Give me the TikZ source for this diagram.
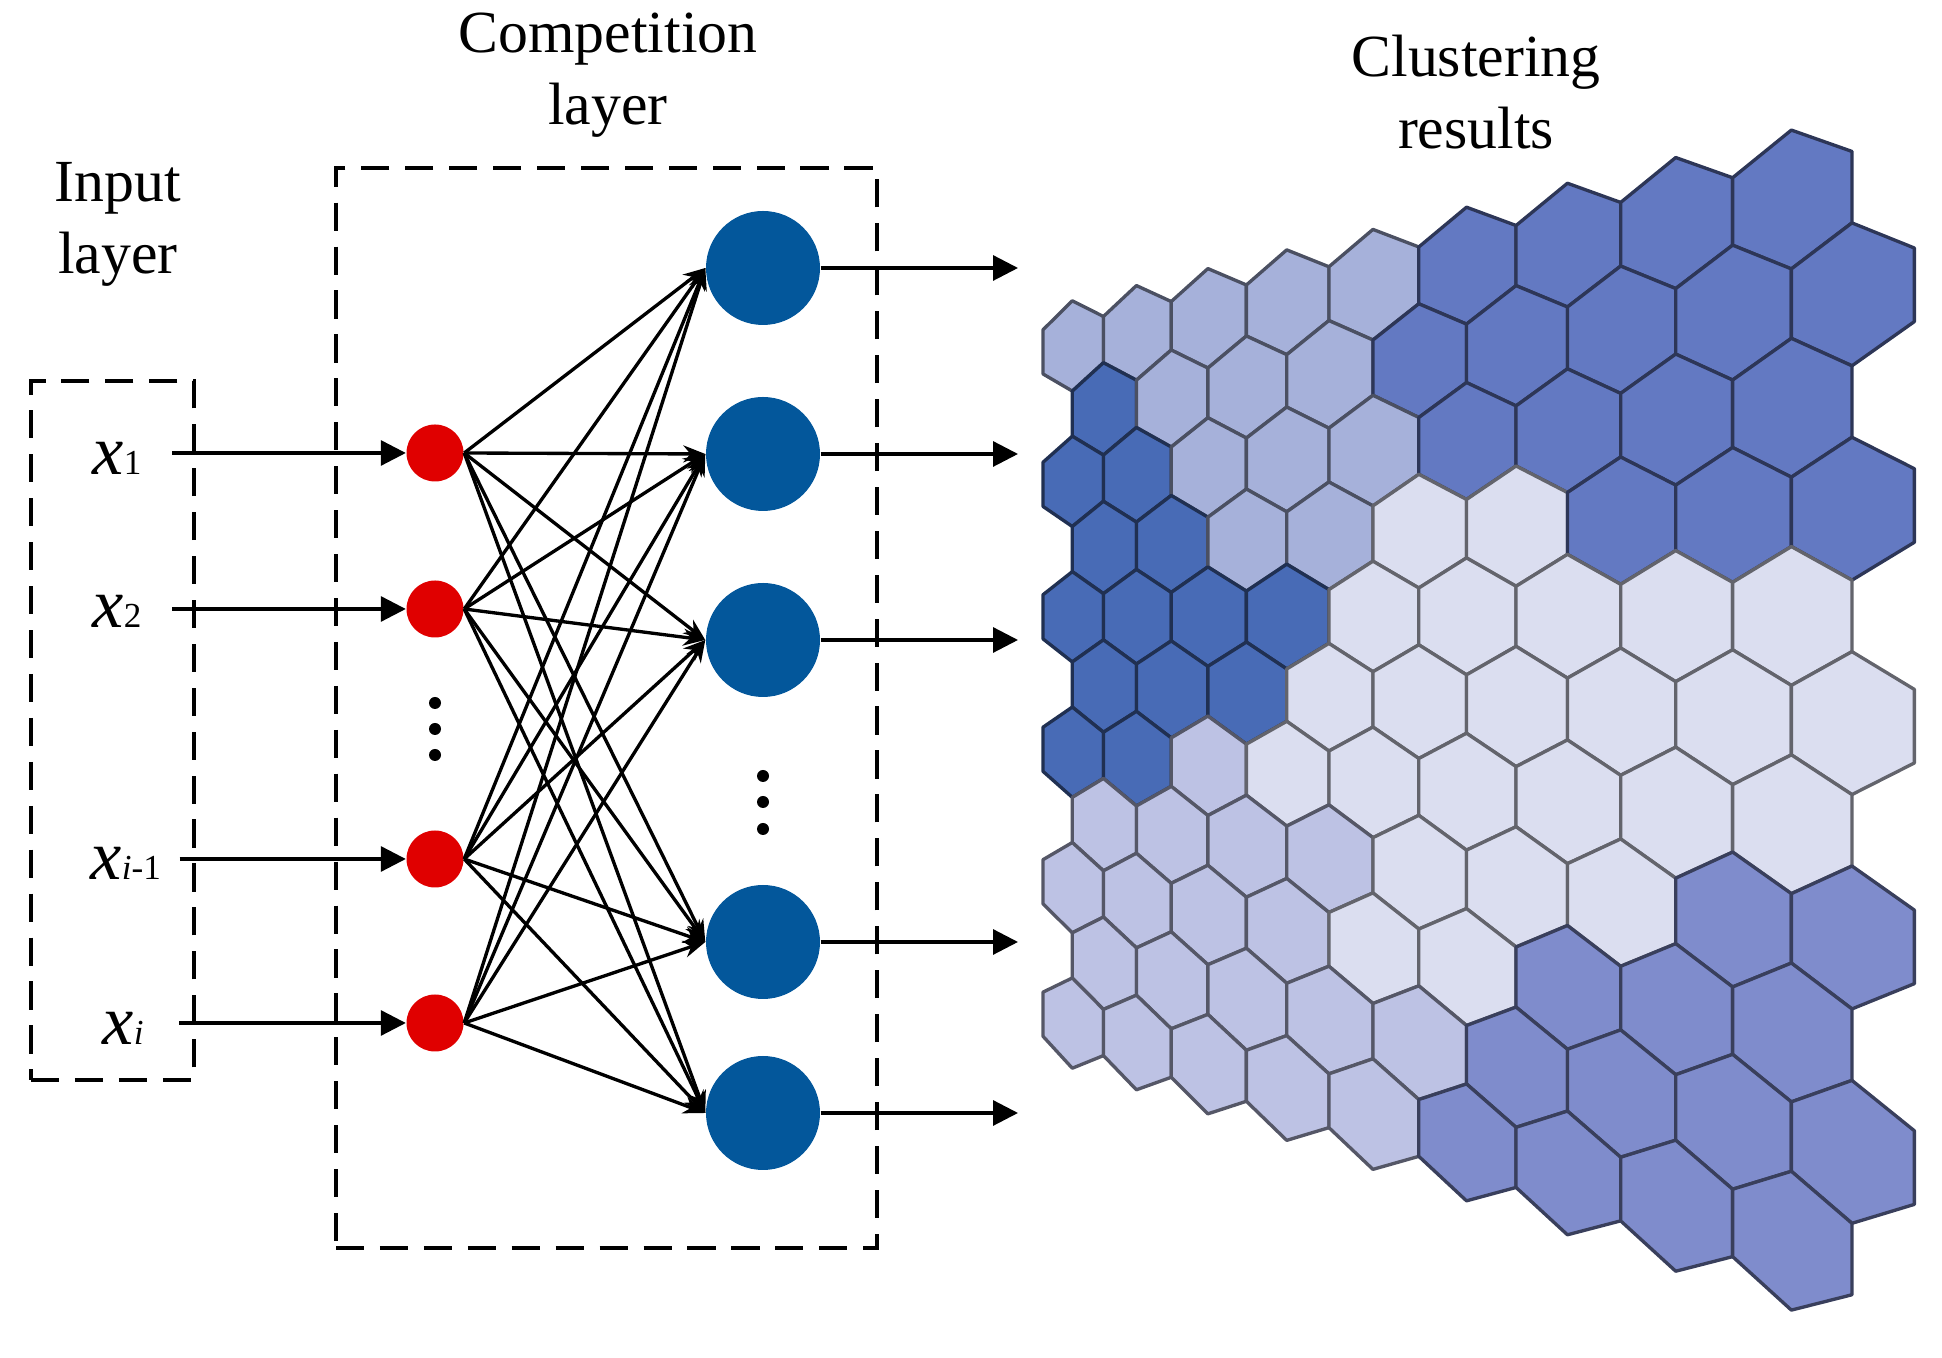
\documentclass[tikz,border=0pt]{standalone}
\usepackage{fontspec}
\setmainfont{Liberation Serif}
\usetikzlibrary{arrows.meta,positioning}
\definecolor{nodered}{RGB}{224,0,0}
\definecolor{nodeblue}{RGB}{3,87,155}
\definecolor{cellA}{RGB}{166,177,218}
\definecolor{cellB}{RGB}{72,107,182}
\definecolor{cellC}{RGB}{99,121,194}
\definecolor{cellW}{RGB}{219,222,240}
\definecolor{cellE}{RGB}{189,194,228}
\definecolor{cellF}{RGB}{127,140,204}
\newcommand{\insub}[1]{{\fontsize{10}{12}\selectfont #1}}
\tikzset{
  base/.style={font=\fontsize{17}{20.5}\selectfont, align=center, inner sep=2pt, text=black},
  xlab/.style={base, font=\fontsize{20}{24}\selectfont, anchor=base west},
  inp/.style={circle, fill=nodered, minimum size=5.7mm, inner sep=0pt},
  comp/.style={circle, fill=nodeblue, minimum size=11.4mm, inner sep=0pt},
  dotnode/.style={circle, fill=black, minimum size=1.2mm, inner sep=0pt},
  layerbox/.style={rectangle, draw=black, line width=1pt, dash pattern=on 8pt off 4.5pt, inner sep=0pt},
  arr/.style={-{Triangle[length=2.5mm,width=2.5mm]}, line width=0.9pt, draw=black},
  link/.style={-{Stealth[length=2.2mm,width=1.7mm]}, line width=0.95pt, draw=black},
  hexcell/.style={line width=0.95pt, line join=round},
  declare function={
    hx(\u)=10.43+0.293*\u+0.0092*\u*(\u-1);
    ht(\u)=(hx(\u)-10.72)/7.17;
    hp(\u)=0.677+0.363*ht(\u);
    hc(\u)=6.845+0.355*ht(\u);
    hy(\u,\v)=-(hc(\u)+(\v-5)*hp(\u));
  },
}

\begin{document}
\begin{tikzpicture}
  \useasboundingbox (0,0) rectangle (19.42,-13.58);
  \node[layerbox,minimum width=16.3mm,minimum height=69.9mm] (inbox) at (1.125,-7.305) {};
  \node[layerbox,minimum width=54.1mm,minimum height=108mm] (compbox) at (6.065,-7.08) {};
  \node[base] (intitle) at (1.18,-2.24) {Input\\layer};
  \node[base] (comptitle) at (6.08,-0.75) {Competition\\layer};
  \node[base] (cluttitle) at (14.76,-0.92) {Clustering\\results};
  \node[xlab] (x1) at (0.85,-4.75) {\textit{x}\insub{1}};
  \node[xlab] (x2) at (0.85,-6.28) {\textit{x}\insub{2}};
  \node[xlab] (x3) at (0.83,-8.80) {\textit{x}\insub{\textit{i}-1}};
  \node[xlab] (x4) at (0.95,-10.45) {\textit{x}\insub{\textit{i}}};
  \foreach \i/\y in {1/4.53,2/6.09,3/8.59,4/10.23}
    \node[inp] (r\i) at (4.35,-\y) {};
  \foreach \i/\y in {1/2.68,2/4.54,3/6.40,4/9.42,5/11.13}{
    \node[comp] (b\i) at (7.63,-\y) {};
    \coordinate (o\i) at (10.18,-\y);
  }
  \foreach \k/\y in {1/7.03,2/7.29,3/7.55}
    \node[dotnode] (rd\k) at (4.35,-\y) {};
  \foreach \k/\y in {1/7.76,2/8.02,3/8.29}
    \node[dotnode] (bd\k) at (7.63,-\y) {};
  \foreach \i/\s in {1/2.3mm,2/2.3mm,3/1.1mm,4/2.8mm}
    \draw[arr,shorten <=\s] (x\i.east |- r\i) -- (r\i);
  \foreach \i in {1,...,4}
    \foreach \k in {1,...,5}
      \draw[link] (r\i.east) -- (b\k.west);
  \foreach \i in {1,...,5}
    \draw[arr] (b\i) -- (o\i);
  \foreach \r/\cells in {0/{A,A,A,A,A,C,C,C,C},1/{B,A,A,A,C,C,C,C,C},2/{B,B,A,A,A,C,C,C,C},
      3/{B,B,A,A,W,W,C,C,C},4/{B,B,B,B,W,W,W,W,W},5/{B,B,B,W,W,W,W,W,W},
      6/{B,B,E,W,W,W,W,W,W},7/{E,E,E,E,W,W,W,F,F},8/{E,E,E,E,W,W,F,F,F},
      9/{E,E,E,E,E,F,F,F,F},10/{E,E,E,E,E,F,F,F,F}}{
    \foreach \cl [count=\j from 0] in \cells {
      \pgfmathsetmacro\u{2*\j+1+mod(\r,2)}
      \filldraw[hexcell,fill=cell\cl,draw=cell\cl!45!black]
        ({hx(\u)},{hy(\u,\r-2/3)}) -- ({hx(\u+1)},{hy(\u+1,\r-1/3)}) -- ({hx(\u+1)},{hy(\u+1,\r+1/3)})
        -- ({hx(\u)},{hy(\u,\r+2/3)}) -- ({hx(\u-1)},{hy(\u-1,\r+1/3)}) -- ({hx(\u-1)},{hy(\u-1,\r-1/3)}) -- cycle;
    }
  }
\end{tikzpicture}
\end{document}
